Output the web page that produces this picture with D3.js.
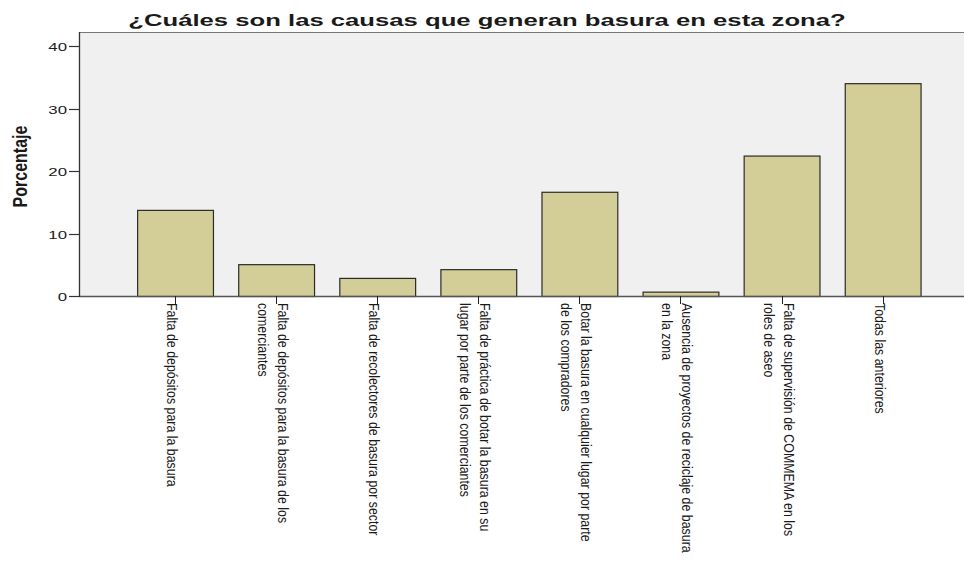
<!DOCTYPE html>
<html>
<head>
<meta charset="utf-8">
<script src="https://cdn.jsdelivr.net/npm/d3@7"></script>
<style>
  html, body { margin: 0; padding: 0; background: #ffffff; }
  svg { display: block; }
  text { font-family: "Liberation Sans", Arial, sans-serif; fill: #1a1a1a; }
</style>
</head>
<body>
<svg id="chart" width="964" height="561"></svg>
<script>
// Categories (each entry is the list of lines of its axis label)
const categories = [
  ["Falta de depósitos para la basura"],
  ["Falta de depósitos para la basura de los", "comerciantes"],
  ["Falta de recolectores de basura por sector"],
  ["Falta de práctica de botar la basura en su", "lugar por parte de los comerciantes"],
  ["Botar la basura en cualquier lugar por parte", "de los compradores"],
  ["Ausencia de proyectos de reciclaje de basura", "en la zona"],
  ["Falta de supervisión de COMMEMA en los", "roles de aseo"],
  ["Todas las anteriores"]
];
// Percentage of responses per category
const percentages = [13.8, 5.1, 2.9, 4.3, 16.7, 0.7, 22.5, 34.1];
const yTicks = [0, 10, 20, 30, 40];
const titleText = "¿Cuáles son las causas que generan basura en esta zona?";
const yTitle = "Porcentaje";

const svg = d3.select("#chart");
const plot = { left: 79, right: 964, top: 32, bottom: 296 };

const y = d3.scaleLinear().domain([0, 42.3]).range([plot.bottom, plot.top]);
const x = d3.scaleBand()
  .domain(d3.range(categories.length))
  .range([124.5, 933.2])
  .paddingInner(0.25)
  .paddingOuter(0.125);

// plot background
svg.append("rect")
  .attr("x", plot.left).attr("y", plot.top)
  .attr("width", plot.right - plot.left).attr("height", plot.bottom - plot.top)
  .attr("fill", "#f0f0f0");

// top frame line
svg.append("line")
  .attr("x1", plot.left).attr("x2", plot.right)
  .attr("y1", plot.top + 0.5).attr("y2", plot.top + 0.5)
  .attr("stroke", "#777").attr("stroke-width", 1);

// bars
svg.append("g").selectAll("rect")
  .data(percentages)
  .join("rect")
  .attr("x", (d, i) => x(i) + 0.5)
  .attr("y", d => y(d) + 0.5)
  .attr("width", x.bandwidth())
  .attr("height", d => y(0) - y(d))
  .attr("fill", "#d3ce97")
  .attr("stroke", "#2b2b2b")
  .attr("stroke-width", 1.2);

// x axis baseline
svg.append("line")
  .attr("x1", plot.left).attr("x2", plot.right)
  .attr("y1", plot.bottom + 0.5).attr("y2", plot.bottom + 0.5)
  .attr("stroke", "#555").attr("stroke-width", 1.3);

// x ticks and rotated category labels
const xg = svg.append("g");
categories.forEach((lines, i) => {
  const cx = Math.round(x(i) + x.bandwidth() / 2) + 0.5;
  xg.append("line")
    .attr("x1", cx).attr("x2", cx)
    .attr("y1", plot.bottom).attr("y2", plot.bottom + 8)
    .attr("stroke", "#222").attr("stroke-width", 1);
  const sy = 1.075;
  const g = xg.append("g")
    .attr("transform", `translate(${cx},${plot.bottom + 7}) rotate(90) scale(0.953,${sy})`);
  const n = lines.length;
  lines.forEach((line, k) => {
    const b = 8.5 + (k - (n - 1) / 2) * 21;
    g.append("text")
      .attr("x", 0)
      .attr("y", b / sy)
      .attr("font-size", 13)
      .attr("text-anchor", "start")
      .text(line);
  });
});

// y axis line
svg.append("line")
  .attr("x1", plot.left + 0.5).attr("x2", plot.left + 0.5)
  .attr("y1", plot.top).attr("y2", plot.bottom + 1)
  .attr("stroke", "#333").attr("stroke-width", 1.3);

// y ticks and labels
const yg = svg.append("g");
yTicks.forEach(t => {
  const ty = Math.round(y(t)) + 0.5;
  yg.append("line")
    .attr("x1", plot.left - 10).attr("x2", plot.left)
    .attr("y1", ty).attr("y2", ty)
    .attr("stroke", "#333").attr("stroke-width", 1.2);
  yg.append("g")
    .attr("transform", `translate(${plot.left - 12},${ty + 4}) scale(1.5,1)`)
    .append("text")
    .attr("font-size", 11.2)
    .attr("text-anchor", "end")
    .text(t);
});

// y axis title
svg.append("g")
  .attr("transform", `translate(27,166.5) rotate(-90) scale(1,1.3)`)
  .append("text")
  .attr("font-size", 16)
  .attr("font-weight", "bold")
  .attr("text-anchor", "middle")
  .text(yTitle);

// chart title
svg.append("g")
  .attr("transform", `translate(487,25.5) scale(1.51,1)`)
  .append("text")
  .attr("font-size", 17)
  .attr("font-weight", "bold")
  .attr("text-anchor", "middle")
  .text(titleText);
</script>
</body>
</html>
